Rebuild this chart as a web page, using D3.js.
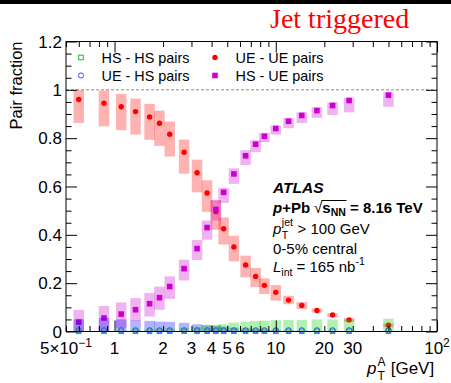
<!DOCTYPE html>
<html>
<head>
<meta charset="utf-8">
<script src="https://cdn.jsdelivr.net/npm/d3@7"></script>
<style>
body { margin: 0; background: #fff; }
svg { display: block; }
text { white-space: pre; }
</style>
</head>
<body>
<div id="wrapper"></div>
<script>
// pT^A bin centres [GeV]
const ptA = [0.6, 0.86, 1.1, 1.35, 1.65, 1.9, 2.2, 2.7, 3.25, 3.75, 4.25, 4.75, 5.5, 6.5, 7.5, 8.5, 10, 12, 14.5, 18, 22.5, 28.5, 50];

// UE - UE pairs (with systematic box bounds)
const ueUe   = [0.96, 0.945, 0.93, 0.91, 0.888, 0.862, 0.816, 0.742, 0.657, 0.573, 0.496, 0.425, 0.35, 0.275, 0.228, 0.191, 0.162, 0.13, 0.108, 0.087, 0.068, 0.048, 0.026];
const ueUeLo = [0.863, 0.849, 0.833, 0.815, 0.793, 0.768, 0.724, 0.653, 0.576, 0.495, 0.421, 0.36, 0.29, 0.224, 0.184, 0.155, 0.128, 0.113, 0.093, 0.078, 0.06, 0.04, 0.018];
const ueUeHi = [0.999, 0.997, 0.983, 0.964, 0.942, 0.914, 0.869, 0.794, 0.711, 0.626, 0.543, 0.472, 0.396, 0.314, 0.263, 0.22, 0.192, 0.148, 0.122, 0.096, 0.076, 0.056, 0.033];

// HS - UE pairs
const hsUe   = [0.039, 0.056, 0.072, 0.09, 0.115, 0.14, 0.186, 0.26, 0.343, 0.43, 0.505, 0.576, 0.652, 0.727, 0.775, 0.808, 0.84, 0.87, 0.894, 0.914, 0.935, 0.956, 0.978];
const hsUeLo = [0.0, 0.0, 0.014, 0.044, 0.062, 0.09, 0.135, 0.211, 0.296, 0.38, 0.459, 0.532, 0.611, 0.689, 0.742, 0.783, 0.815, 0.841, 0.863, 0.884, 0.896, 0.907, 0.93];
const hsUeHi = [0.089, 0.106, 0.12, 0.138, 0.159, 0.186, 0.228, 0.297, 0.379, 0.459, 0.543, 0.594, 0.675, 0.75, 0.791, 0.822, 0.853, 0.884, 0.907, 0.928, 0.949, 0.967, 0.99];

// UE - HS pairs
const ueHs   = [0.005, 0.005, 0.005, 0.005, 0.005, 0.005, 0.005, 0.005, 0.005, 0.005, 0.005, 0.005, 0.005, 0.005, 0.005, 0.005, 0.005, 0.005, 0.005, 0.005, 0.005, 0.005, 0.005];
const ueHsHi = [0.05, 0.056, 0.05, 0.046, 0.044, 0.041, 0.04, 0.036, 0.03, 0.027, 0.024, 0.02, 0.016, 0.013, 0.01, 0.008, 0.006, 0.005, 0.004, 0.003, 0.003, 0.002, 0.002];

// HS - HS pairs
const hsHs   = [0.001, 0.001, 0.001, 0.001, 0.001, 0.001, 0.001, 0.001, 0.001, 0.001, 0.001, 0.001, 0.001, 0.001, 0.001, 0.001, 0.001, 0.001, 0.001, 0.001, 0.001, 0.001, 0.001];
const hsHsHi = [0.003, 0.004, 0.005, 0.006, 0.008, 0.01, 0.012, 0.015, 0.02, 0.024, 0.027, 0.03, 0.037, 0.041, 0.043, 0.045, 0.047, 0.048, 0.048, 0.05, 0.05, 0.05, 0.053];

// axis tick labels
const xLabelVals = [0.5, 1, 2, 3, 4, 5, 6, 10, 20, 30, 100];
const xLabels = [["5\u00d710", "\u22121"], ["1"], ["2"], ["3"], ["4"], ["5"], ["6"], ["10"], ["20"], ["30"], ["10", "2"]];
const yLabelVals = [0, 0.2, 0.4, 0.6, 0.8, 1, 1.2];

const legendItems = [
  {name: "HS - HS pairs", kind: "hshs"},
  {name: "UE - HS pairs", kind: "uehs"},
  {name: "UE - UE pairs", kind: "ueue"},
  {name: "HS - UE pairs", kind: "hsue"},
];

const font = "'Liberation Sans', Arial, Helvetica, sans-serif";
const colors = {
  ueue: "#ff0000",
  hsue: "#cc00cc",
  uehs: "#3355ff",
  hshs: "#22bb22",
};

let dimensions = {
  width: 451,
  height: 383,
  margin: {top: 41.5, right: 14, bottom: 51.5, left: 66},
};
dimensions.boundedWidth = dimensions.width - dimensions.margin.left - dimensions.margin.right;
dimensions.boundedHeight = dimensions.height - dimensions.margin.top - dimensions.margin.bottom;

const svg = d3.select("#wrapper").append("svg")
  .attr("width", dimensions.width)
  .attr("height", dimensions.height);

svg.append("rect").attr("x", 0).attr("y", 0).attr("width", dimensions.width).attr("height", 4).attr("fill", "#000");

const bounds = svg.append("g")
  .attr("transform", `translate(${dimensions.margin.left},${dimensions.margin.top})`);

const xScale = d3.scaleLog().domain([0.5, 100]).range([0, dimensions.boundedWidth]);
const yScale = d3.scaleLinear().domain([0, 1.2]).range([dimensions.boundedHeight, 0]);

const plot = bounds.append("g");

// dashed line at 1
plot.append("line")
  .attr("x1", 0).attr("x2", dimensions.boundedWidth)
  .attr("y1", yScale(1)).attr("y2", yScale(1))
  .attr("stroke", "#888").attr("stroke-dasharray", "3,2").attr("stroke-width", 1);

const boxW = 10.5;
const idx = d3.range(ptA.length);

function drawBoxes(lo, hi, color) {
  plot.append("g").selectAll("rect").data(idx).join("rect")
    .attr("x", i => xScale(ptA[i]) - boxW / 2)
    .attr("width", boxW)
    .attr("y", i => yScale(hi[i]))
    .attr("height", i => yScale(lo[i]) - yScale(hi[i]))
    .attr("fill", color)
    .attr("fill-opacity", 0.3);
}

function drawMarker(sel, kind) {
  if (kind === "ueue") {
    sel.append("circle").attr("r", 2.7).attr("fill", colors.ueue);
  } else if (kind === "hsue") {
    sel.append("rect").attr("x", -2.8).attr("y", -2.8).attr("width", 5.6).attr("height", 5.6).attr("fill", colors.hsue);
  } else if (kind === "uehs") {
    sel.append("circle").attr("r", 2.6).attr("fill", "none").attr("stroke", colors.uehs).attr("stroke-width", 1);
  } else {
    sel.append("rect").attr("x", -2.3).attr("y", -2.3).attr("width", 4.6).attr("height", 4.6)
      .attr("fill", "none").attr("stroke", colors.hshs).attr("stroke-width", 1);
  }
}

function drawPoints(vals, kind) {
  plot.append("g").selectAll("g").data(idx).join("g")
    .attr("transform", i => `translate(${xScale(ptA[i])},${yScale(vals[i])})`)
    .each(function() { drawMarker(d3.select(this), kind); });
}

const zeros = ptA.map(() => 0);

drawBoxes(ueUeLo, ueUeHi, colors.ueue);
drawPoints(ueUe, "ueue");
drawBoxes(hsUeLo, hsUeHi, colors.hsue);
drawPoints(hsUe, "hsue");
drawBoxes(zeros, ueHsHi, "#0000ff");
drawBoxes(zeros, hsHsHi, "#00cc00");
drawPoints(hsHs, "hshs");
drawPoints(ueHs, "uehs");

// axes: ticks pointing inward on all four sides
const xAll = xScale.ticks();
const xMajor = xAll.filter(v => Math.abs(Math.log10(v) - Math.round(Math.log10(v))) < 1e-9);
const xMinor = xAll.filter(v => !xMajor.includes(v));
const yMajor = yLabelVals;
const yMinor = d3.range(0, 1.2001, 0.05).filter(v => !yMajor.some(m => Math.abs(m - v) < 1e-6));

function addAxis(gen, transform) {
  const g = bounds.append("g").attr("transform", transform).call(gen);
  g.select(".domain").remove();
  g.selectAll("line").attr("stroke", "#000");
  return g;
}
const H = dimensions.boundedHeight, W = dimensions.boundedWidth;
addAxis(d3.axisBottom(xScale).tickValues(xMajor).tickSize(-11).tickFormat(""), `translate(0,${H})`);
addAxis(d3.axisBottom(xScale).tickValues(xMinor).tickSize(-5.5).tickFormat(""), `translate(0,${H})`);
addAxis(d3.axisTop(xScale).tickValues(xMajor).tickSize(-11).tickFormat(""), "translate(0,0)");
addAxis(d3.axisTop(xScale).tickValues(xMinor).tickSize(-5.5).tickFormat(""), "translate(0,0)");
addAxis(d3.axisLeft(yScale).tickValues(yMajor).tickSize(-11).tickFormat(""), "translate(0,0)");
addAxis(d3.axisLeft(yScale).tickValues(yMinor).tickSize(-5.5).tickFormat(""), "translate(0,0)");
addAxis(d3.axisRight(yScale).tickValues(yMajor).tickSize(-11).tickFormat(""), `translate(${W},0)`);
addAxis(d3.axisRight(yScale).tickValues(yMinor).tickSize(-5.5).tickFormat(""), `translate(${W},0)`);

// frame
bounds.append("rect")
  .attr("x", 0).attr("y", 0).attr("width", W).attr("height", H)
  .attr("fill", "none").attr("stroke", "#000").attr("stroke-width", 1);

// y tick labels
bounds.append("g").selectAll("text").data(yLabelVals).join("text")
  .attr("x", -4).attr("y", d => yScale(d)).attr("dy", "0.36em")
  .attr("text-anchor", "end")
  .style("font-family", font).style("font-size", "17px")
  .text(d => d3.format("")(d));

// x tick labels
const xl = bounds.append("g").selectAll("text").data(xLabelVals).join("text")
  .attr("x", d => xScale(d)).attr("y", H + 22)
  .attr("text-anchor", "middle")
  .style("font-family", font).style("font-size", "17px");
xl.each(function(d, i) {
  const t = d3.select(this);
  t.append("tspan").text(xLabels[i][0]);
  if (xLabels[i][1]) {
    t.append("tspan").attr("dy", -7).style("font-size", "12px").text(xLabels[i][1]);
  }
});

// y axis title
svg.append("text")
  .attr("transform", `translate(22,${dimensions.margin.top}) rotate(-90)`)
  .attr("text-anchor", "end")
  .style("font-family", font).style("font-size", "16.5px")
  .text("Pair fraction");

// rich text helper: parts drawn one after another, "stack" puts a part at the same x as the previous one
function richText(parent, x, y, parts) {
  let cx = x, prevX = x;
  const spans = [];
  parts.forEach(p => {
    const px = p.stack ? prevX : cx + (p.gap || 0);
    const el = parent.append("text")
      .attr("x", px).attr("y", y + (p.dy || 0))
      .style("font-family", font)
      .style("font-size", (p.size || 15) + "px")
      .style("font-weight", p.bold ? "bold" : "normal")
      .style("font-style", p.italic ? "italic" : "normal")
      .attr("fill", p.color || "#000")
      .text(p.t);
    const w = el.node().getComputedTextLength();
    spans.push([px, px + w]);
    if (p.stack) {
      cx = Math.max(cx, px + w);
    } else {
      prevX = px;
      cx = px + w;
    }
  });
  return spans;
}

// x axis title
richText(svg, 367, 374, [
  {t: "p", size: 17, italic: true},
  {t: "A", size: 12, dy: -8, gap: 1},
  {t: "T", size: 12, dy: 6, stack: true},
  {t: " [GeV]", size: 17, gap: 0.5},
]);

// title
svg.append("text")
  .attr("x", 270).attr("y", 28)
  .style("font-family", "'Liberation Serif', 'Times New Roman', serif")
  .style("font-size", "28px")
  .attr("fill", "#ff0000")
  .text("Jet triggered");

// legend
const legend = svg.append("g");
const legendCols = [81, 215];
const legendRows = [57.5, 75.5];
legendItems.forEach((item, i) => {
  const col = Math.floor(i / 2), row = i % 2;
  const g = legend.append("g").attr("transform", `translate(${legendCols[col]},${legendRows[row]})`);
  drawMarker(g, item.kind);
  g.append("text")
    .attr("x", 20.5).attr("y", 5.2)
    .style("font-family", font).style("font-size", "14.4px")
    .text(item.name);
});

// ATLAS label block
const tx = 273;
svg.append("text")
  .attr("x", tx).attr("y", 193)
  .style("font-family", font).style("font-size", "15.5px")
  .style("font-weight", "bold").style("font-style", "italic")
  .text("ATLAS");

const sq = richText(svg, tx, 212.5, [
  {t: "p", bold: true, italic: true},
  {t: "+Pb", bold: true},
  {t: "\u221a", gap: 4, size: 15},
  {t: "s", bold: true, gap: 0},
  {t: "NN", bold: true, size: 10.5, dy: 3.5},
  {t: " = 8.16 TeV", bold: true},
]);
svg.append("line")
  .attr("x1", sq[2][1] - 1).attr("x2", sq[4][1] + 0.5)
  .attr("y1", 200.5).attr("y2", 200.5)
  .attr("stroke", "#000").attr("stroke-width", 1);

richText(svg, tx, 234, [
  {t: "p", italic: true},
  {t: "jet", size: 10.5, dy: -8, gap: 0.5},
  {t: "T", size: 10.5, dy: 5, stack: true},
  {t: " > 100 GeV", gap: 0.5},
]);

svg.append("text")
  .attr("x", tx).attr("y", 254)
  .style("font-family", font).style("font-size", "15px")
  .text("0-5% central");

richText(svg, tx, 271.5, [
  {t: "L", italic: true},
  {t: "int", size: 10.5, dy: 4},
  {t: " = 165 nb"},
  {t: "-1", size: 10.5, dy: -7},
]);
</script>
</body>
</html>
